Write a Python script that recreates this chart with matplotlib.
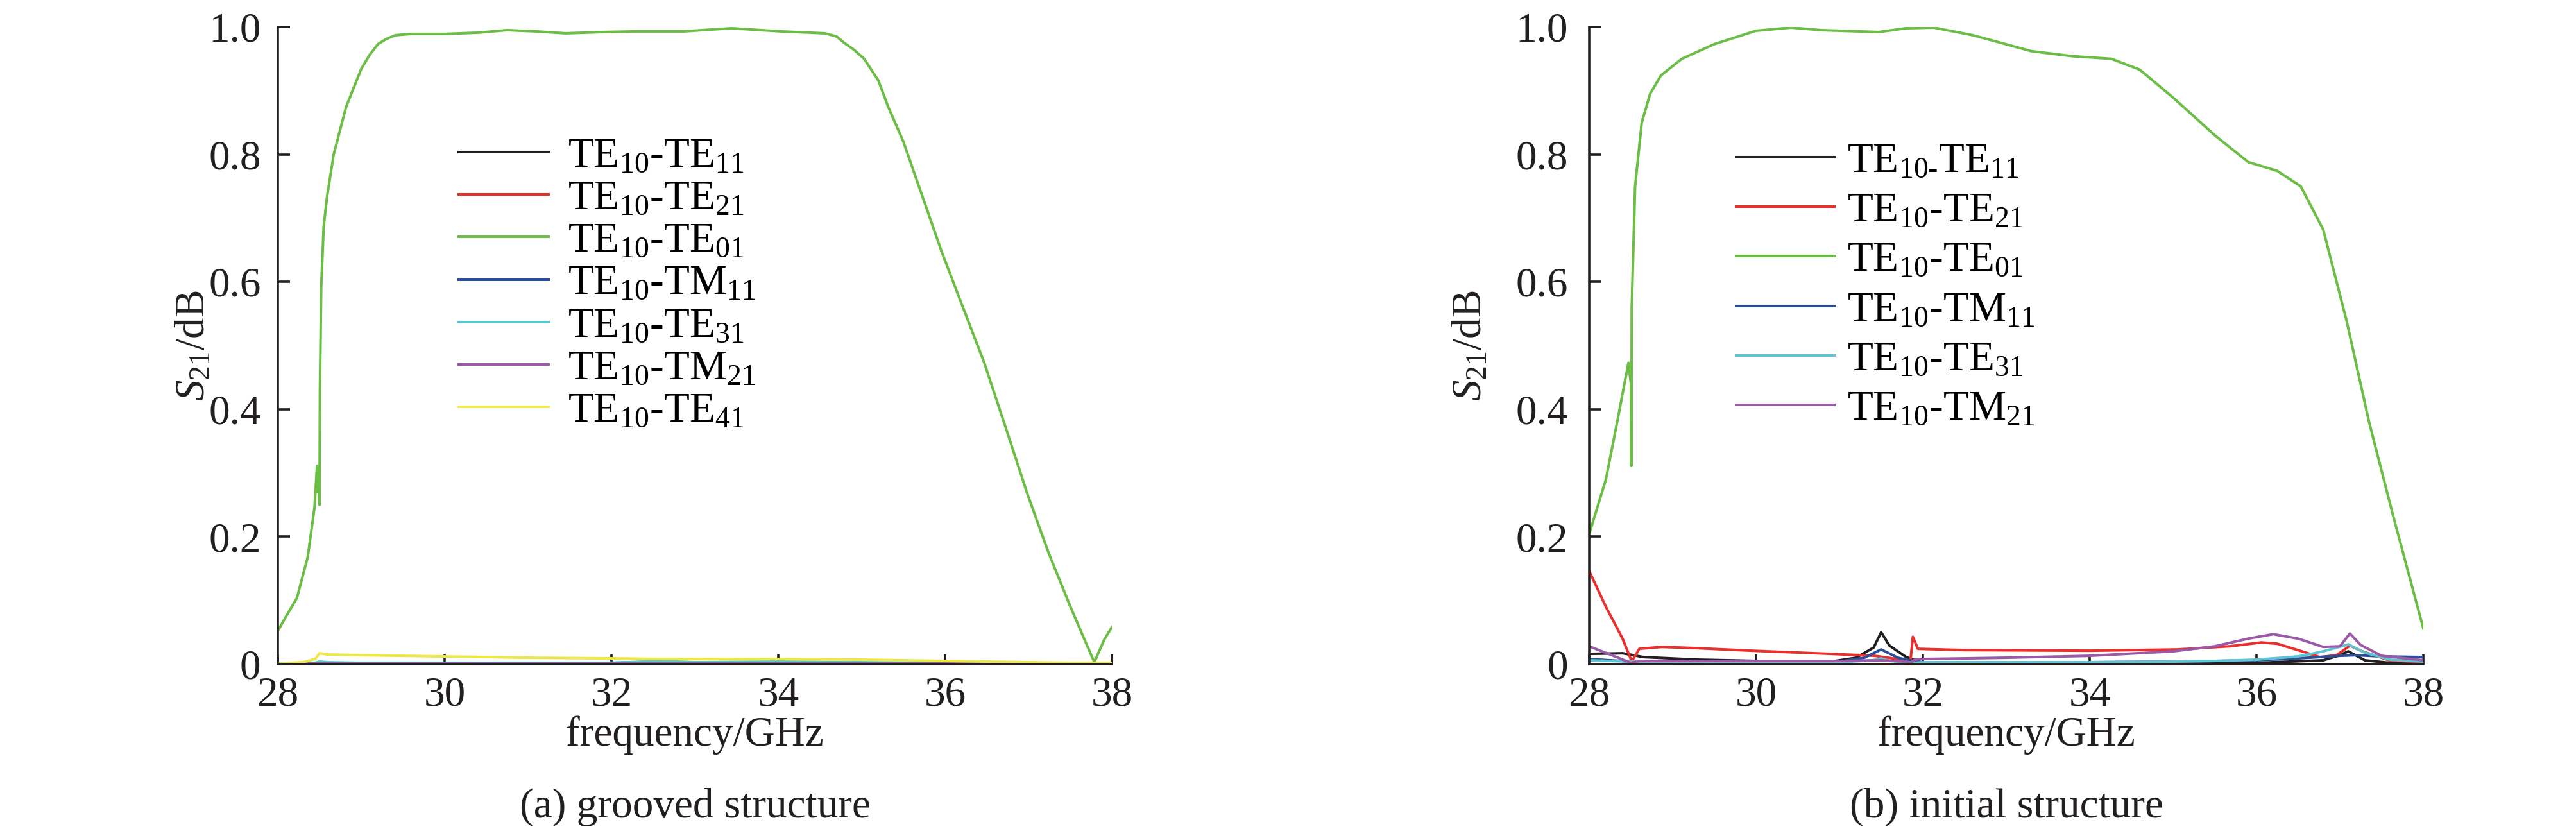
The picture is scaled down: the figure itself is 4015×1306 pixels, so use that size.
import numpy as np
import matplotlib.pyplot as plt

plt.rcParams['font.family'] = ['Liberation Serif', 'DejaVu Serif']
plt.rcParams['mathtext.fontset'] = 'custom'
plt.rcParams['mathtext.rm'] = 'Liberation Serif'
plt.rcParams['mathtext.it'] = 'Liberation Serif:italic'
plt.rcParams['font.size'] = 47

# ---- (a) grooved structure ----
freq_a_01 = [28.0, 28.1, 28.23, 28.36, 28.44, 28.47, 28.48, 28.49, 28.50, 28.505, 28.52, 28.55,
             28.59, 28.67, 28.82, 29.0, 29.1, 29.2, 29.3, 29.41, 29.6, 30.0, 30.4, 30.75, 31.1,
             31.45, 31.9, 32.27, 32.86, 33.44, 34.03, 34.56, 34.7, 34.79, 34.9, 35.03, 35.2, 35.32,
             35.5, 35.67, 35.96, 36.22, 36.47, 36.73, 36.99, 37.24, 37.5, 37.65, 37.79, 37.91, 38.0]
te01_a = [0.052, 0.075, 0.104, 0.169, 0.246, 0.311, 0.27, 0.30, 0.25, 0.43, 0.59, 0.687,
          0.733, 0.80, 0.875, 0.934, 0.956, 0.973, 0.981, 0.987, 0.989, 0.989, 0.991, 0.995, 0.993,
          0.990, 0.992, 0.993, 0.993, 0.998, 0.993, 0.990, 0.985, 0.975, 0.965, 0.95, 0.916, 0.874,
          0.82, 0.756, 0.647, 0.558, 0.473, 0.37, 0.266, 0.175, 0.091, 0.045, 0.003, 0.039, 0.058]

freq_a_low = [28, 28.3, 28.45, 28.5, 28.6, 29, 30, 31, 32, 32.6, 33, 34, 35, 36, 37, 37.5, 38]
te11_a = [0.001, 0.001, 0.001, 0.002, 0.001, 0.001, 0.001, 0.001, 0.001, 0.001, 0.001, 0.001,
          0.001, 0.001, 0.001, 0.001, 0.001]
te21_a = [0.001, 0.001, 0.002, 0.003, 0.002, 0.002, 0.002, 0.002, 0.002, 0.002, 0.002, 0.002,
          0.002, 0.001, 0.001, 0.001, 0.001]
tm11_a = [0.001, 0.001, 0.002, 0.003, 0.002, 0.002, 0.001, 0.001, 0.002, 0.004, 0.002, 0.003,
          0.002, 0.002, 0.001, 0.001, 0.001]
te31_a = [0.002, 0.002, 0.002, 0.004, 0.003, 0.002, 0.002, 0.002, 0.002, 0.005, 0.003, 0.004,
          0.003, 0.002, 0.002, 0.001, 0.001]
tm21_a = [0.001, 0.001, 0.001, 0.001, 0.001, 0.001, 0.001, 0.001, 0.001, 0.001, 0.001, 0.001,
          0.001, 0.001, 0.001, 0.001, 0.001]
te41_a = [0.001, 0.003, 0.008, 0.017, 0.015, 0.014, 0.012, 0.010, 0.009, 0.008, 0.008, 0.008,
          0.007, 0.005, 0.003, 0.002, 0.002]

# ---- (b) initial structure ----
freq_b_01 = [28.0, 28.2, 28.35, 28.47, 28.50, 28.505, 28.51, 28.55, 28.63, 28.73, 28.86, 29.11,
             29.5, 30.0, 30.42, 30.78, 31.47, 31.8, 32.13, 32.6, 33.3, 33.8, 34.26, 34.6, 35.01,
             35.5, 35.9, 36.25, 36.53, 36.8, 37.08, 37.35, 37.63, 38.0]
te01_b = [0.204, 0.29, 0.39, 0.473, 0.44, 0.311, 0.56, 0.75, 0.85, 0.895, 0.924, 0.95,
          0.973, 0.994, 0.999, 0.995, 0.992, 0.998, 0.999, 0.987, 0.962, 0.954, 0.95, 0.933, 0.888,
          0.83, 0.788, 0.774, 0.75, 0.682, 0.539, 0.38, 0.237, 0.056]

freq_b_11 = [28, 28.4, 28.65, 29.3, 30, 30.9, 31.2, 31.41, 31.5, 31.6, 31.8, 32, 33, 34, 35, 36,
             36.8, 37.0, 37.1, 37.3, 37.6, 38]
te11_b = [0.016, 0.017, 0.011, 0.007, 0.005, 0.004, 0.01, 0.026, 0.05, 0.029, 0.011, 0.002,
          0.001, 0.001, 0.001, 0.002, 0.006, 0.014, 0.02, 0.006, 0.002, 0.001]

freq_b_21 = [28, 28.2, 28.4, 28.51, 28.6, 28.87, 29.3, 29.95, 30.9, 31.42, 31.8, 31.85, 31.88,
             31.94, 32.5, 34, 35.05, 35.68, 36.06, 36.25, 36.57, 36.76, 36.96, 37.12, 37.27, 37.59, 38]
te21_b = [0.146, 0.09, 0.04, 0.004, 0.024, 0.027, 0.025, 0.021, 0.016, 0.013, 0.006, 0.003, 0.043,
          0.024, 0.022, 0.021, 0.023, 0.028, 0.034, 0.032, 0.019, 0.011, 0.014, 0.029, 0.02, 0.006, 0.003]

freq_b_m11 = [28, 28.5, 29, 30, 31, 31.3, 31.5, 31.7, 31.9, 32, 33, 34, 35, 36, 36.5, 37, 37.2, 37.5, 38]
tm11_b = [0.008, 0.004, 0.004, 0.003, 0.004, 0.01, 0.023, 0.01, 0.004, 0.003, 0.002, 0.003,
          0.004, 0.006, 0.009, 0.013, 0.014, 0.012, 0.011]

freq_b_31 = [28, 28.5, 29, 30, 31, 31.4, 31.5, 31.6, 31.9, 32, 33, 34, 35, 35.5, 36, 36.5, 36.8,
             37.1, 37.3, 37.6, 38]
te31_b = [0.006, 0.004, 0.004, 0.003, 0.003, 0.006, 0.009, 0.005, 0.002, 0.003, 0.003, 0.003,
          0.004, 0.005, 0.007, 0.012, 0.02, 0.031, 0.018, 0.007, 0.004]

freq_b_m21 = [28, 28.25, 28.5, 28.6, 29, 30, 31, 31.5, 31.8, 31.85, 31.9, 32, 33, 34, 35, 35.5,
              35.9, 36.2, 36.5, 36.8, 37.0, 37.12, 37.25, 37.5, 38]
tm21_b = [0.028, 0.015, 0.002, 0.005, 0.005, 0.005, 0.005, 0.006, 0.004, 0.001, 0.007, 0.008,
          0.01, 0.013, 0.02, 0.028, 0.04, 0.047, 0.04, 0.027, 0.028, 0.048, 0.03, 0.013, 0.006]

c_black = '#231f20'
c_red = '#e8312f'
c_green = '#6cbd45'
c_blue = '#2a4d9b'
c_cyan = '#5fc4d3'
c_purple = '#9a5aa7'
c_yellow = '#ede74a'

lab = [r'TE$_{10}$-TE$_{11}$', r'TE$_{10}$-TE$_{21}$', r'TE$_{10}$-TE$_{01}$',
       r'TE$_{10}$-TM$_{11}$', r'TE$_{10}$-TE$_{31}$', r'TE$_{10}$-TM$_{21}$',
       r'TE$_{10}$-TE$_{41}$']
lab_b0 = r'TE$_{10\text{-}}$TE$_{11}$'

fig = plt.figure(figsize=(40.16, 13.06), dpi=100)
ax1 = fig.add_axes([433 / 4016, 271 / 1306, 1300 / 4016, 993 / 1306])
ax2 = fig.add_axes([2477 / 4016, 271 / 1306, 1300 / 4016, 993 / 1306])

lw = 2.9
ax1.plot(freq_a_low, te11_a, color=c_black, lw=lw, label=lab[0])
ax1.plot(freq_a_low, te21_a, color=c_red, lw=lw, label=lab[1])
ax1.plot(freq_a_01, te01_a, color=c_green, lw=lw, label=lab[2])
ax1.plot(freq_a_low, tm11_a, color=c_blue, lw=lw, label=lab[3])
ax1.plot(freq_a_low, te31_a, color=c_cyan, lw=lw, label=lab[4])
ax1.plot(freq_a_low, tm21_a, color=c_purple, lw=lw, label=lab[5])
ax1.plot(freq_a_low, te41_a, color=c_yellow, lw=lw, label=lab[6])

ax2.plot(freq_b_11, te11_b, color=c_black, lw=lw, label=lab_b0)
ax2.plot(freq_b_21, te21_b, color=c_red, lw=lw, label=lab[1])
ax2.plot(freq_b_01, te01_b, color=c_green, lw=lw, label=lab[2])
ax2.plot(freq_b_m11, tm11_b, color=c_blue, lw=lw, label=lab[3])
ax2.plot(freq_b_31, te31_b, color=c_cyan, lw=lw, label=lab[4])
ax2.plot(freq_b_m21, tm21_b, color=c_purple, lw=lw, label=lab[5])

for ax, ypad in [(ax1, 19), (ax2, 24)]:
    ax.set_xlim(28, 38)
    ax.set_ylim(0, 1)
    ax.set_xticks([28, 30, 32, 34, 36, 38])
    ax.set_yticks([0, 0.2, 0.4, 0.6, 0.8, 1.0])
    ax.set_yticklabels(['0', '0.2', '0.4', '0.6', '0.8', '1.0'])
    ax.spines['top'].set_visible(False)
    ax.spines['right'].set_visible(False)
    ax.spines['left'].set_linewidth(2.6)
    ax.spines['bottom'].set_linewidth(2.6)
    ax.spines['left'].set_color(c_black)
    ax.spines['bottom'].set_color(c_black)
    ax.tick_params(axis='x', direction='in', length=11, width=2.6, pad=14,
                   labelsize=47, colors=c_black)
    ax.tick_params(axis='y', direction='in', length=14, width=2.6, pad=ypad,
                   labelsize=47, colors=c_black)
    ax.text(0.5, -0.112, 'frequency/GHz', transform=ax.transAxes,
            ha='center', va='center', fontsize=47, color=c_black)

ax1.text(0.5, -0.225, '(a) grooved structure', transform=ax1.transAxes,
         ha='center', va='center', fontsize=47, color=c_black)
ax2.text(0.5, -0.225, '(b) initial structure', transform=ax2.transAxes,
         ha='center', va='center', fontsize=47, color=c_black)

ax1.text(-0.1008, 0.5, '$S_{21}$/dB', transform=ax1.transAxes, rotation=90,
         ha='center', va='center', fontsize=47, color=c_black)
ax2.text(-0.142, 0.5, '$S_{21}$/dB', transform=ax2.transAxes, rotation=90,
         ha='center', va='center', fontsize=47, color=c_black)

ax1.legend(loc='upper left', bbox_to_anchor=(715 / 4016, 1 - 214 / 1306),
           bbox_transform=fig.transFigure, frameon=False, fontsize=47,
           handlelength=2.15, handletextpad=0.45, labelspacing=0.1,
           borderpad=0, borderaxespad=0)
ax2.legend(loc='upper left', bbox_to_anchor=(2706 / 4016, 1 - 222 / 1306),
           bbox_transform=fig.transFigure, frameon=False, fontsize=47,
           handlelength=2.35, handletextpad=0.3, labelspacing=0.27,
           borderpad=0, borderaxespad=0)

fig.savefig('out.png', dpi=100, facecolor='white')
